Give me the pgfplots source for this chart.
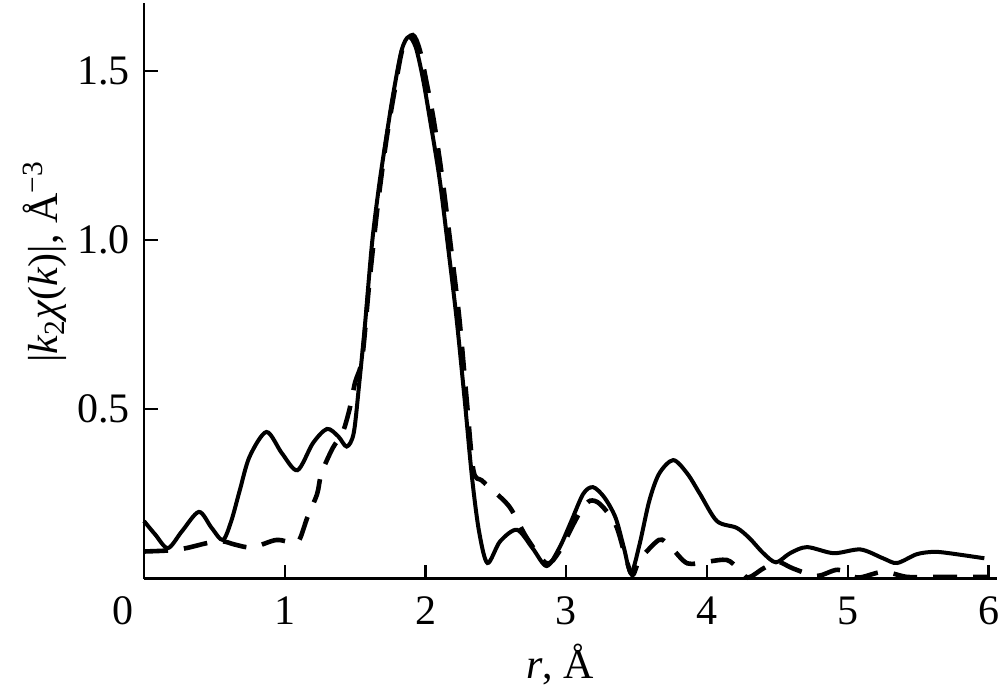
\documentclass[border=0pt]{standalone}
\usepackage{fontspec}
\setmainfont{Liberation Serif}
\usepackage{pgfplots}
\pgfplotsset{compat=1.18}
\usepackage{pgfplotstable}

\pgfplotstableread{
x y
0.00 0.170
0.08 0.130
0.17 0.090
0.27 0.140
0.39 0.197
0.48 0.150
0.56 0.114
0.62 0.170
0.68 0.260
0.75 0.360
0.87 0.433
0.98 0.370
1.09 0.320
1.20 0.400
1.30 0.442
1.38 0.420
1.44 0.390
1.49 0.430
1.53 0.580
1.57 0.750
1.62 0.990
1.67 1.160
1.72 1.300
1.77 1.430
1.83 1.560
1.88 1.600
1.93 1.570
1.98 1.480
2.03 1.360
2.10 1.180
2.16 0.980
2.22 0.770
2.28 0.520
2.33 0.300
2.38 0.140
2.44 0.046
2.53 0.110
2.65 0.144
2.76 0.090
2.86 0.037
2.95 0.090
3.03 0.164
3.12 0.250
3.19 0.270
3.27 0.240
3.35 0.180
3.41 0.090
3.46 0.016
3.52 0.100
3.59 0.230
3.66 0.310
3.76 0.350
3.86 0.310
3.95 0.250
4.07 0.170
4.21 0.150
4.30 0.120
4.40 0.075
4.49 0.048
4.59 0.075
4.71 0.093
4.90 0.075
5.09 0.086
5.25 0.060
5.35 0.046
5.49 0.072
5.61 0.079
5.72 0.075
5.97 0.060
}\solid

\pgfplotstableread{
x y
0.00 0.080
0.17 0.083
0.30 0.090
0.45 0.105
0.56 0.110
0.65 0.100
0.77 0.092
0.94 0.114
1.07 0.105
1.11 0.120
1.16 0.180
1.23 0.250
1.26 0.310
1.34 0.385
1.41 0.430
1.46 0.500
1.50 0.580
1.55 0.650
1.60 0.870
1.66 1.100
1.72 1.290
1.78 1.440
1.84 1.570
1.91 1.605
1.96 1.560
2.01 1.460
2.06 1.350
2.12 1.180
2.18 0.980
2.24 0.770
2.29 0.540
2.34 0.320
2.40 0.290
2.48 0.260
2.60 0.210
2.72 0.120
2.86 0.045
2.95 0.080
3.05 0.160
3.11 0.205
3.17 0.230
3.24 0.220
3.35 0.160
3.42 0.065
3.47 0.010
3.52 0.055
3.63 0.105
3.68 0.115
3.75 0.090
3.86 0.045
4.00 0.050
4.14 0.055
4.22 0.030
4.29 0.003
4.40 0.030
4.50 0.050
4.61 0.030
4.78 0.008
4.93 0.026
5.07 0.003
5.25 0.020
5.42 0.005
5.60 0.005
6.00 0.005
}\dashed

\begin{document}
\fontsize{21pt}{25pt}\selectfont
\begin{tikzpicture}
\useasboundingbox (0,0) rectangle (501pt,347pt);
\begin{axis}[
  at={(72pt,57.7pt)}, anchor=south west,
  scale only axis,
  width=426.5pt, height=287.8pt,
  xmin=0, xmax=6.06, ymin=0, ymax=1.70,
  axis x line=bottom, axis y line=left,
  axis line style={-, line width=1.4pt, black},
  tick align=inside,
  major tick length=7pt,
  every tick/.style={black, line width=1.2pt},
  xtick={0,1,2,3,4,5,6},
  xticklabels={{\makebox[0pt]{\hspace*{-21pt}0}},1,2,3,4,5,6},
  ytick={0.5,1.0,1.5},
  yticklabels={0.5,1.0,1.5},
  ticklabel style={font=\fontsize{21pt}{25pt}\selectfont},
  /pgf/number format/assume math mode=true,
  xticklabel style={yshift=-2pt},
  xlabel={\textit{r}, Å},
  ylabel={|\textit{k}\textsubscript{2}\textit{χ}(\textit{k})|, Å\textsuperscript{−3}},
  label style={font=\fontsize{21pt}{25pt}\selectfont},
  xlabel style={at={(axis description cs:0.488,-0.15)}, anchor=center},
  ylabel style={at={(axis description cs:-0.116,0.55)}, anchor=center},
  clip=false,
]
\addplot[black, line width=2pt, smooth, tension=0.5] table[x=x,y=y] {\solid};
\addplot[black, line width=2.3pt, smooth, tension=0.5, dash pattern=on 12pt off 8pt] table[x=x,y=y] {\dashed};
\end{axis}
\end{tikzpicture}
\end{document}
